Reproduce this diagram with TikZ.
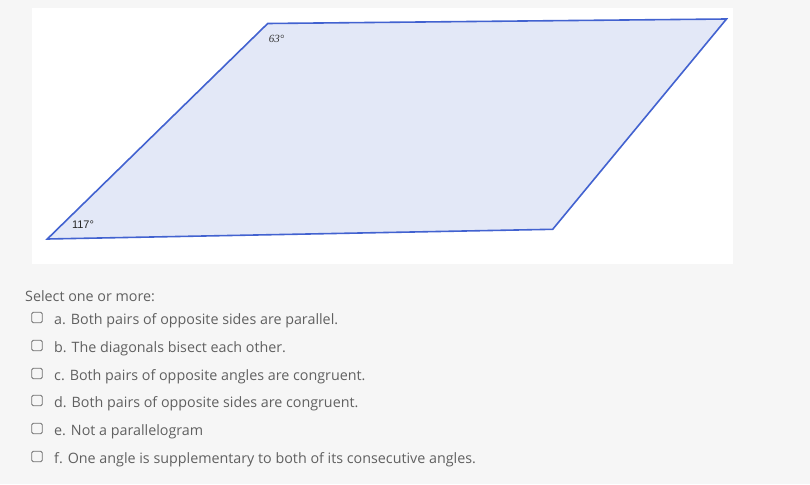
\documentclass[tikz,border=0pt]{standalone}
\usepackage{fontspec}
\setmainfont{Open Sans}
\newfontfamily\anglefont{Liberation Sans}
\newfontfamily\anglefontb{Liberation Serif}
\usepackage{xcolor}
\definecolor{pagegray}{HTML}{F6F6F6}
\definecolor{edgeblue}{HTML}{4262D0}
\definecolor{faceblue}{HTML}{E3E8F7}
\definecolor{textgray}{HTML}{606060}
\definecolor{boxgray}{HTML}{707070}
\tikzset{
  choice/.style={anchor=base west,inner sep=0pt,text=textgray,font=\fontsize{14.3}{16}\selectfont},
  tickbox/.style={draw=boxgray,line width=0.9pt,rounded corners=1.5pt,minimum width=10.5pt,minimum height=10.5pt,inner sep=0pt}
}
\begin{document}
\begin{tikzpicture}[x=1pt,y=-1pt]
    % Page
    \fill[pagegray] (0,0) rectangle (810,484);
    \useasboundingbox (0,0) rectangle (810,484);
    \fill[white] (32,8) rectangle (733,264);
    % Parallelogram
    \coordinate (A) at (47.3,239);
    \coordinate (B) at (267.7,23.5);
    \coordinate (C) at (726.5,19);
    \coordinate (D) at (552.7,229.3);
    \draw[line width=1.6pt,edgeblue,fill=faceblue,line join=miter] (A) -- (B) -- (C) -- (D) -- cycle;
    \node[font=\anglefontb\itshape\fontsize{11}{12}\selectfont,text=black!80] (top) at (276.5,38.5) {63\textdegree};
    \node[font=\anglefont\fontsize{11}{12}\selectfont,text=black!85] (bot) at (83,225) {117\textdegree};
    % Question
    \node[choice] (ask) at (25,301) {Select one or more:};
    % Option a
    \node[tickbox] (boxa) at (37,317.5) {};
    \node[choice] (opta) at (54,324) {a. Both pairs of opposite sides are parallel.};
    % Option b
    \node[tickbox] (boxb) at (37,345.5) {};
    \node[choice] (optb) at (54,352) {b. The diagonals bisect each other.};
    % Option c
    \node[tickbox] (boxc) at (37,373.5) {};
    \node[choice] (optc) at (54,380) {c. Both pairs of opposite angles are congruent.};
    % Option d
    \node[tickbox] (boxd) at (37,400.5) {};
    \node[choice] (optd) at (54,407) {d. Both pairs of opposite sides are congruent.};
    % Option e
    \node[tickbox] (boxe) at (37,428.5) {};
    \node[choice] (opte) at (54,435) {e. Not a parallelogram};
    % Option f
    \node[tickbox] (boxf) at (37,456.5) {};
    \node[choice] (optf) at (54,463) {f. One angle is supplementary to both of its consecutive angles.};
\end{tikzpicture}
\end{document}
